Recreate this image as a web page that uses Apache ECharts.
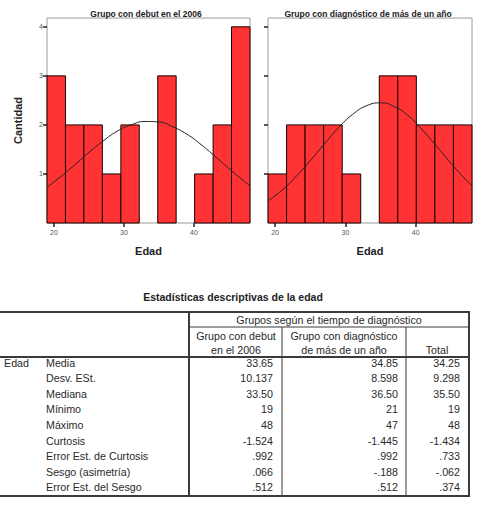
<!DOCTYPE html>
<html>
<head>
<meta charset="utf-8">
<script src="https://cdn.jsdelivr.net/npm/echarts@6/dist/echarts.min.js"></script>
<style>
  html, body { margin: 0; padding: 0; background: #fff; }
  #chart { width: 492px; height: 512px; }
</style>
</head>
<body>
<div id="chart"></div>
<script>
// bordes de los intervalos (edad)
const binEdges = [19, 21.64, 24.27, 26.91, 29.55, 32.18, 34.82, 37.45, 40.09, 42.73, 45.36, 48]
// frecuencias por intervalo
const countsDebut = [3, 2, 2, 1, 2, 0, 3, 0, 1, 2, 4]
const countsDiag = [1, 2, 2, 2, 1, 0, 3, 3, 2, 2, 2]
// curva normal
const curveX = [19, 21, 23, 25, 27, 29, 31, 33, 35, 37, 39, 41, 43, 45, 47, 48]
const curveDebut = [0.73, 0.95, 1.19, 1.44, 1.67, 1.87, 2.00, 2.07, 2.06, 1.96, 1.81, 1.60, 1.36, 1.11, 0.87, 0.76]
const curveDiag = [0.45, 0.67, 0.95, 1.27, 1.61, 1.94, 2.21, 2.39, 2.45, 2.37, 2.18, 1.89, 1.56, 1.22, 0.90, 0.76]
const xTicks = [20, 30, 40]
const yTicks = [1, 2, 3, 4]
const panelTitles = ['Grupo con debut en el 2006', 'Grupo con diagnóstico de más de un año']

// tabla
const tableTitle = 'Estadísticas descriptivas de la edad'
const rowLabels = ['Media', 'Desv. ESt.', 'Mediana', 'Mínimo', 'Máximo', 'Curtosis',
  'Error Est. de Curtosis', 'Sesgo (asimetría)', 'Error Est. del Sesgo']
const debutValues = ['33.65', '10.137', '33.50', '19', '48', '-1.524', '.992', '.066', '.512']
const diagValues = ['34.85', '8.598', '36.50', '21', '47', '-1.445', '.992', '-.188', '.512']
const totalValues = ['34.25', '9.298', '35.50', '19', '48', '-1.434', '.733', '-.062', '.374']

const FONT = 'Liberation Sans, Arial, sans-serif'

const barData = counts => counts.map((c, i) => [binEdges[i], binEdges[i + 1], c])

const renderBar = (params, api) => {
  if (api.value(2) === 0) return null
  const start = api.coord([api.value(0), 0])
  const end = api.coord([api.value(1), api.value(2)])
  return {
    type: 'rect',
    shape: { x: start[0], y: end[1], width: end[0] - start[0], height: start[1] - end[1] },
    style: { fill: '#ff3333', stroke: '#1a0000', lineWidth: 1 }
  }
}

const makeXAxis = (gridIndex) => ({
  type: 'value', gridIndex, min: 19, max: 48,
  name: 'Edad', nameLocation: 'middle', nameGap: 22,
  nameTextStyle: { fontFamily: FONT, fontWeight: 'bold', fontSize: 11, color: '#222' },
  axisLine: { show: false },
  axisTick: { show: true, customValues: xTicks, length: 4, lineStyle: { color: '#222', width: 1.5 } },
  axisLabel: { customValues: xTicks, fontSize: 7, color: '#555', fontFamily: FONT, margin: 6 },
  splitLine: { show: false }
})

const makeYAxis = (gridIndex, labels) => ({
  type: 'value', gridIndex, min: 0, max: 4.18,
  name: labels ? 'Cantidad' : '', nameLocation: 'middle', nameGap: 24, nameRotate: 90,
  nameTextStyle: { fontFamily: FONT, fontWeight: 'bold', fontSize: 11, color: '#222' },
  axisLine: { show: false },
  axisTick: { show: true, customValues: yTicks, length: 4, lineStyle: { color: '#222', width: 1.5 } },
  axisLabel: { show: labels, customValues: yTicks, fontSize: 7, color: '#555', fontFamily: FONT, margin: 4 },
  splitLine: { show: false }
})

// elementos de la tabla
const graphics = []
const txt = (x, y, s, opts = {}) => graphics.push({
  type: 'text', x, y,
  style: Object.assign({ text: s, font: '10.7px ' + FONT, fill: '#2a2a2a', textAlign: 'left', textVerticalAlign: 'middle' }, opts)
})
const line = (x1, y1, x2, y2, w) => graphics.push({
  type: 'line', shape: { x1, y1, x2, y2 }, style: { stroke: '#3a3a3a', lineWidth: w }
})

panelTitles.forEach((t, i) => txt(i === 0 ? 146 : 368, 14, t,
  { font: 'bold 8.5px ' + FONT, textAlign: 'center', fill: '#222' }))

txt(233, 297, tableTitle, { font: 'bold 10.5px ' + FONT, textAlign: 'center', fill: '#222' })
line(0, 312, 470, 312, 2)
line(0, 357, 470, 357, 2)
line(0, 496, 470, 496, 2)
line(189, 312, 189, 497, 2)
line(469, 312, 469, 497, 2)
line(189, 327, 469, 327, 1)
line(282, 327, 282, 496, 1)
line(406, 327, 406, 496, 1)
txt(329, 320, 'Grupos según el tiempo de diagnóstico', { textAlign: 'center' })
txt(236, 336, 'Grupo con debut', { textAlign: 'center' })
txt(236, 350, 'en el 2006', { textAlign: 'center' })
txt(344, 336, 'Grupo con diagnóstico', { textAlign: 'center' })
txt(344, 350, 'de más de un año', { textAlign: 'center' })
txt(437, 350, 'Total', { textAlign: 'center' })
txt(4, 362.5, 'Edad')
rowLabels.forEach((r, i) => {
  const y = 362.5 + i * 15.6
  txt(46, y, r)
  txt(273, y, debutValues[i], { textAlign: 'right' })
  txt(398, y, diagValues[i], { textAlign: 'right' })
  txt(460, y, totalValues[i], { textAlign: 'right' })
})

const chart = echarts.init(document.getElementById('chart'), null, { renderer: 'svg' })
chart.setOption({
  animation: false,
  grid: [
    { left: 47, top: 18, width: 203, height: 205, show: true, borderColor: '#9a9a9a', borderWidth: 1, backgroundColor: '#fff' },
    { left: 268, top: 18, width: 204, height: 205, show: true, borderColor: '#9a9a9a', borderWidth: 1, backgroundColor: '#fff' }
  ],
  xAxis: [makeXAxis(0), makeXAxis(1)],
  yAxis: [makeYAxis(0, true), makeYAxis(1, false)],
  series: [
    { type: 'custom', xAxisIndex: 0, yAxisIndex: 0, renderItem: renderBar, encode: { x: [0, 1], y: 2 }, data: barData(countsDebut) },
    { type: 'custom', xAxisIndex: 1, yAxisIndex: 1, renderItem: renderBar, encode: { x: [0, 1], y: 2 }, data: barData(countsDiag) },
    { type: 'line', xAxisIndex: 0, yAxisIndex: 0, smooth: true, symbol: 'none', z: 5,
      lineStyle: { color: '#222', width: 1 }, data: curveX.map((x, i) => [x, curveDebut[i]]) },
    { type: 'line', xAxisIndex: 1, yAxisIndex: 1, smooth: true, symbol: 'none', z: 5,
      lineStyle: { color: '#222', width: 1 }, data: curveX.map((x, i) => [x, curveDiag[i]]) }
  ],
  graphic: graphics
})
</script>
</body>
</html>
